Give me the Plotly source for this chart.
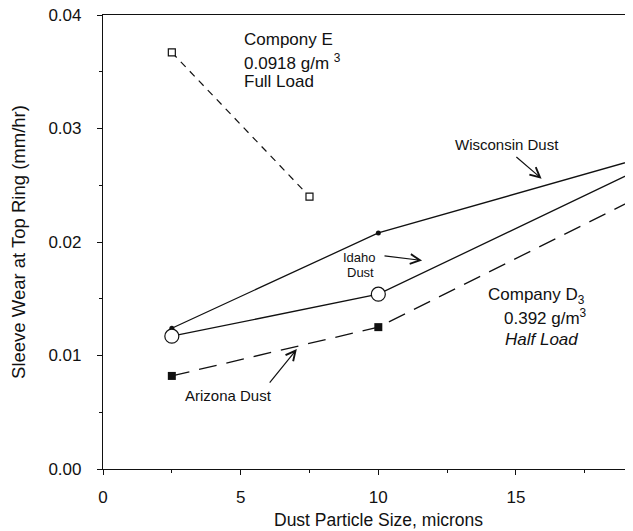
import plotly.graph_objects as go

# ---- data ----
size_e = [2.5, 7.5]
wear_e = [0.0367, 0.0240]

size_d = [2.5, 10, 20]
wear_wisconsin = [0.0124, 0.0208, 0.0277]
wear_idaho = [0.0117, 0.0154, 0.0270]
wear_arizona = [0.0082, 0.0125, 0.0246]

x_ticks = [0, 5, 10, 15]
y_ticks = [0.00, 0.01, 0.02, 0.03, 0.04]
y_tick_labels = ["0.00", "0.01", "0.02", "0.03", "0.04"]

x_title = "Dust Particle Size, microns"
y_title = "Sleeve Wear at Top Ring (mm/hr)"

FONT = "Liberation Sans, Arial, Helvetica, sans-serif"
BLACK = "#111111"

fig = go.Figure()

fig.add_trace(go.Scatter(
    x=size_e, y=wear_e, mode="lines+markers", name="Company E",
    line=dict(color=BLACK, width=1.2, dash="7px,6px"),
    marker=dict(symbol="square", size=7, color="white", line=dict(color=BLACK, width=1.2)),
))
fig.add_trace(go.Scatter(
    x=size_d, y=wear_wisconsin, mode="lines+markers", name="Wisconsin Dust",
    line=dict(color=BLACK, width=1.3),
    marker=dict(symbol="circle", size=5, color=BLACK),
))
fig.add_trace(go.Scatter(
    x=size_d, y=wear_arizona, mode="lines+markers", name="Arizona Dust",
    line=dict(color=BLACK, width=1.3, dash="18px,10px"),
    marker=dict(symbol="square", size=8, color=BLACK),
))
fig.add_trace(go.Scatter(
    x=size_d, y=wear_idaho, mode="lines+markers", name="Idaho Dust",
    line=dict(color=BLACK, width=1.3),
    marker=dict(symbol="circle", size=14, color="white", line=dict(color=BLACK, width=1.2)),
))

def text(x, y, s, size=17, anchor="left", italic=False):
    fig.add_annotation(x=x, y=y, xref="x", yref="y", text=s, showarrow=False,
                       xanchor=anchor, yanchor="middle",
                       font=dict(family=FONT, size=size, color=BLACK,
                                 style="italic" if italic else "normal"))

def arrow(x0, y0, x1, y1):
    fig.add_annotation(x=x1, y=y1, ax=x0, ay=y0, xref="x", yref="y", axref="x", ayref="y",
                       text="", showarrow=True, arrowhead=5, arrowsize=1.6,
                       arrowwidth=1.2, arrowcolor=BLACK, standoff=0, startstandoff=0)

# Company E block
text(5.04, 0.0378, "Compony E")
text(5.04, 0.0359, "0.0918 g/m <sup>3</sup>")
text(5.04, 0.0341, "Full Load")

# Company D3 block
text(13.91, 0.0152, "Company D<sub>3</sub>")
text(14.48, 0.01336, "0.392 g/m<sup>3</sup>")
text(14.51, 0.01145, "Half Load", italic=True)

# dust labels
text(14.66, 0.0286, "Wisconsin Dust", size=15, anchor="center")
text(9.3, 0.0186, "Idaho", size=13, anchor="center")
text(9.35, 0.0173, "Dust", size=13, anchor="center")
text(4.55, 0.00645, "Arizona Dust", size=15, anchor="center")

arrow(14.96, 0.0276, 15.93, 0.02558)
arrow(10.17, 0.0188, 11.59, 0.01837)
arrow(6.01, 0.00748, 7.04, 0.01057)

# x-axis title (centred under the original full 0-20 axis, as in the cropped reference)
fig.add_annotation(x=10, y=-0.113, xref="x", yref="paper", text=x_title, showarrow=False,
                   xanchor="center", yanchor="middle",
                   font=dict(family=FONT, size=17.5, color=BLACK))

# the page body has an 8px default margin, so the figure is sized/offset to fill the window
fig.update_layout(
    width=625, height=523,
    margin=dict(l=95, r=0, t=7, b=62),
    paper_bgcolor="white", plot_bgcolor="white",
    showlegend=False,
    font=dict(family=FONT, size=17, color=BLACK),
)
fig.update_xaxes(
    range=[0, 19.25], tickvals=x_ticks, ticks="outside", ticklen=5, tickwidth=1.2,
    tickcolor=BLACK, showline=True, linecolor=BLACK, linewidth=1.2, mirror=True,
    showgrid=False, zeroline=False, ticklabelstandoff=7, automargin=False,
    minor=dict(dtick=2.5, ticks="outside", ticklen=3, tickcolor=BLACK),
)
fig.update_yaxes(
    range=[0, 0.04], tickvals=y_ticks, ticktext=y_tick_labels, ticks="outside", ticklen=5,
    tickwidth=1.2, tickcolor=BLACK, showline=True, linecolor=BLACK, linewidth=1.2,
    showgrid=False, zeroline=False, ticklabelstandoff=12, automargin=False,
    ticklabeloverflow="allow",
    minor=dict(dtick=0.005, ticks="outside", ticklen=3, tickcolor=BLACK),
    title=dict(text=y_title, font=dict(size=18.5), standoff=24),
)

fig.write_html("out.html")
